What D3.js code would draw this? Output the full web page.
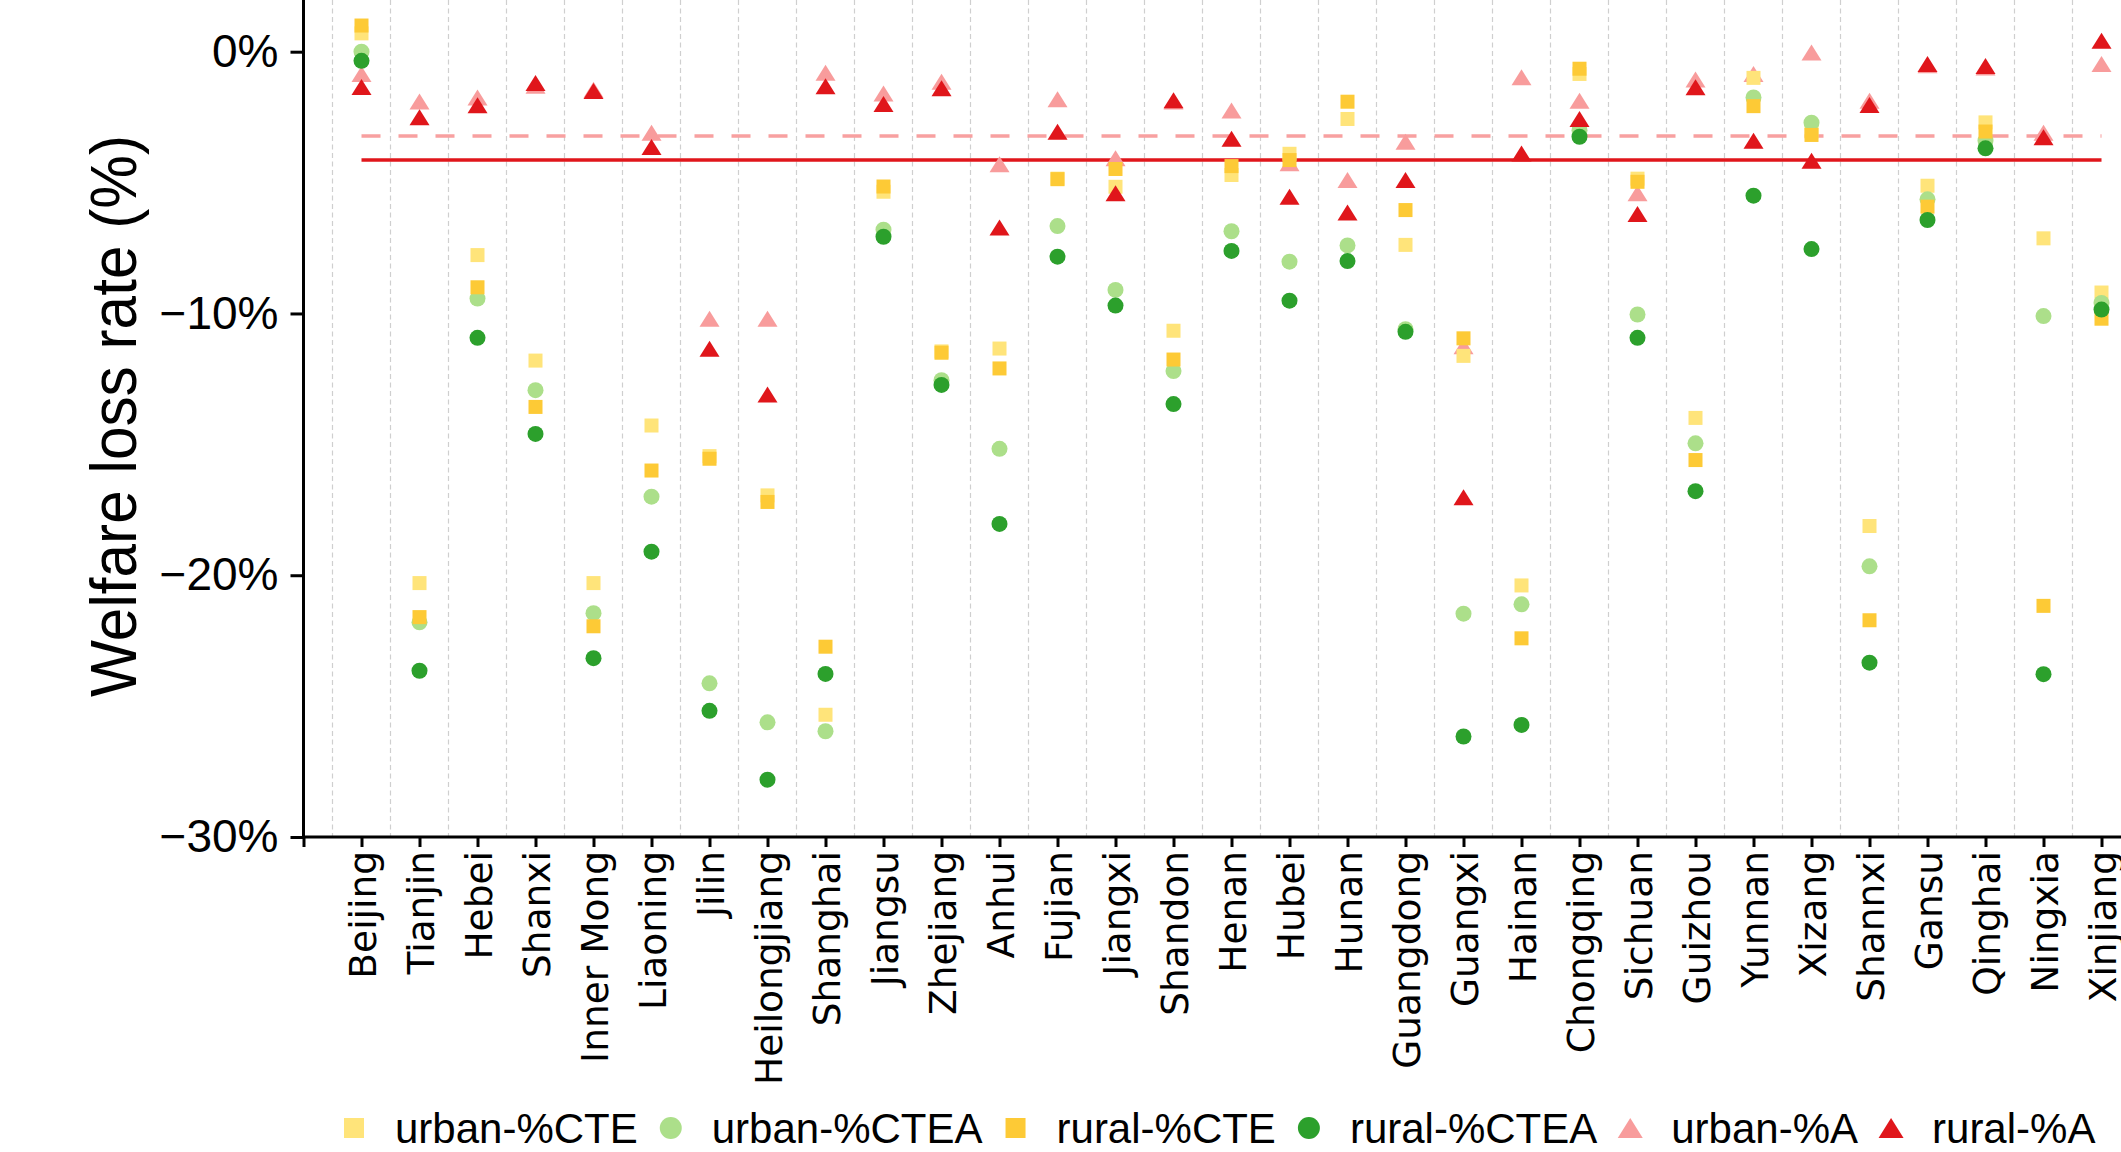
<!DOCTYPE html>
<html>
<head>
<meta charset="utf-8">
<script src="https://cdn.jsdelivr.net/npm/d3@7"></script>
<style>
  body { margin: 0; background: #fff; }
  svg { display: block; font-family: 'Liberation Sans', Arial, sans-serif; }
</style>
</head>
<body>
<svg width="2121" height="1152"></svg>
<script>
const provinces = ['Beijing', 'Tianjin', 'Hebei', 'Shanxi', 'Inner Mong', 'Liaoning', 'Jilin',
  'Heilongjiang', 'Shanghai', 'Jiangsu', 'Zhejiang', 'Anhui', 'Fujian', 'Jiangxi', 'Shandon',
  'Henan', 'Hubei', 'Hunan', 'Guangdong', 'Guangxi', 'Hainan', 'Chongqing', 'Sichuan', 'Guizhou',
  'Yunnan', 'Xizang', 'Shannxi', 'Gansu', 'Qinghai', 'Ningxia', 'Xinjiang'];

const urbanCTE = [0.7, -20.3, -7.77, -11.8, -20.3, -14.28, -15.45, -16.95, -25.33, -5.35, -11.45,
  -11.34, -4.85, -5.16, -10.66, -4.71, -3.9, -2.57, -7.38, -11.62, -20.39, -0.85, -4.85, -13.99,
  -1.0, -3.05, -18.12, -5.12, -2.7, -7.13, -9.2];
const urbanCTEA = [0.0, -21.8, -9.43, -12.93, -21.45, -17.0, -24.13, -25.62, -25.96, -6.8, -12.55,
  -15.17, -6.66, -9.1, -12.2, -6.86, -8.02, -7.4, -10.6, -21.47, -21.11, -3.0, -10.04, -14.96,
  -1.75, -2.71, -19.66, -5.64, -3.4, -10.1, -9.6];
const ruralCTE = [1.0, -21.6, -9.0, -13.57, -21.95, -16.0, -15.55, -17.2, -22.73, -5.15, -11.5,
  -12.1, -4.87, -4.48, -11.76, -4.37, -4.14, -1.91, -6.05, -10.95, -22.41, -0.65, -4.97, -15.6,
  -2.08, -3.18, -21.72, -5.92, -3.05, -21.17, -10.2];
const ruralCTEA = [-0.35, -23.65, -10.93, -14.6, -23.17, -19.1, -25.18, -27.81, -23.77, -7.07,
  -12.73, -18.04, -7.83, -9.7, -13.46, -7.61, -9.51, -8.0, -10.7, -26.16, -25.72, -3.25, -10.93,
  -16.79, -5.5, -7.54, -23.34, -6.43, -3.69, -23.78, -9.85];
const urbanA = [-0.85, -1.9, -1.75, -1.3, -1.45, -3.1, -10.2, -10.2, -0.8, -1.6, -1.15, -4.3,
  -1.82, -4.07, -1.9, -2.25, -4.26, -4.9, -3.44, -11.25, -0.98, -1.87, -5.41, -1.06, -0.85,
  -0.03, -1.87, -0.52, -0.6, -3.1, -0.47];
const ruralA = [-1.35, -2.5, -2.05, -1.2, -1.5, -3.64, -11.35, -13.1, -1.32, -2.0, -1.4, -6.72,
  -3.06, -5.41, -1.85, -3.33, -5.54, -6.14, -4.9, -17.02, -3.89, -2.57, -6.2, -1.36, -3.4,
  -4.17, -2.04, -0.47, -0.55, -3.27, 0.42];

// reference levels (dashed = urban, solid = rural)
const urbanRef = -3.22;
const ruralRef = -4.14;

const yTicks = [0, -10, -20, -30];

const svg = d3.select('svg');
const width = +svg.attr('width');
const height = +svg.attr('height');

const x = d3.scaleLinear().domain([-1, 31]).range([303.5, 303.5 + 32 * 58]);
const y = d3.scaleLinear().domain([-30, 0]).range([837, 51.7]);

const triangle = (w, h) => `M0,${-h / 2}L${w / 2},${h / 2}L${-w / 2},${h / 2}Z`;

const series = [
  { name: 'urban-%CTE', values: urbanCTE, shape: 'square', color: '#ffe47a' },
  { name: 'urban-%CTEA', values: urbanCTEA, shape: 'circle', color: '#acdf8a' },
  { name: 'rural-%CTE', values: ruralCTE, shape: 'square', color: '#fdca36' },
  { name: 'rural-%CTEA', values: ruralCTEA, shape: 'circle', color: '#2ca02c' },
  { name: 'urban-%A', values: urbanA, shape: 'triangle', color: '#f89c9c' },
  { name: 'rural-%A', values: ruralA, shape: 'triangle', color: '#e0161b' }
];
// drawing order: light triangles below, dark triangles on top
const drawOrder = [4, 0, 1, 2, 3, 5];

// vertical dashed grid between provinces
svg.append('g')
  .selectAll('line')
  .data(d3.range(-0.5, 31, 1))
  .join('line')
  .attr('x1', d => x(d))
  .attr('x2', d => x(d))
  .attr('y1', 0)
  .attr('y2', y(-30))
  .attr('stroke', '#cfcfcf')
  .attr('stroke-width', 1.2)
  .attr('stroke-dasharray', '5,3.5');

// reference lines
svg.append('line')
  .attr('x1', x(0)).attr('x2', x(30))
  .attr('y1', y(urbanRef)).attr('y2', y(urbanRef))
  .attr('stroke', '#f8a0a0')
  .attr('stroke-width', 3.5)
  .attr('stroke-dasharray', '19,18');

svg.append('line')
  .attr('x1', x(0)).attr('x2', x(30))
  .attr('y1', y(ruralRef)).attr('y2', y(ruralRef))
  .attr('stroke', '#e0161b')
  .attr('stroke-width', 3.5);

function drawMarker(sel, shape, color, big) {
  if (shape === 'square') {
    const s = big ? 20 : 14;
    sel.append('rect')
      .attr('x', -s / 2).attr('y', -s / 2)
      .attr('width', s).attr('height', s)
      .attr('fill', color);
  } else if (shape === 'circle') {
    sel.append('circle')
      .attr('r', big ? 11 : 8)
      .attr('fill', color);
  } else {
    sel.append('path')
      .attr('d', big ? triangle(25, 20) : triangle(20, 16))
      .attr('fill', color);
  }
}

drawOrder.forEach(k => {
  const s = series[k];
  svg.append('g')
    .selectAll('g')
    .data(s.values)
    .join('g')
    .attr('transform', (d, i) => `translate(${x(i)},${y(d)})`)
    .each(function() { drawMarker(d3.select(this), s.shape, s.color, false); });
});

// y axis
const yAxis = svg.append('g')
  .attr('transform', `translate(${x(-1)},0)`)
  .call(d3.axisLeft(y)
    .tickValues(yTicks)
    .tickSize(13)
    .tickPadding(12)
    .tickFormat(d => d3.format('d')(d) + '%'));
yAxis.select('.domain').remove();
yAxis.selectAll('.tick line').attr('stroke', '#000').attr('stroke-width', 3);
yAxis.selectAll('.tick text')
  .attr('font-size', 46)
  .attr('font-family', "'Liberation Sans', Arial, sans-serif")
  .attr('fill', '#000');

svg.append('line')
  .attr('x1', x(-1)).attr('x2', x(-1))
  .attr('y1', 0).attr('y2', y(-30) + 1.5)
  .attr('stroke', '#000')
  .attr('stroke-width', 3);

// x axis
const xAxis = svg.append('g')
  .attr('transform', `translate(0,${y(-30)})`)
  .call(d3.axisBottom(x)
    .tickValues(d3.range(-1, 32))
    .tickSize(10)
    .tickFormat(d => provinces[d] || ''));
xAxis.select('.domain').remove();
xAxis.selectAll('.tick line').attr('stroke', '#000').attr('stroke-width', 3);
xAxis.selectAll('.tick text')
  .attr('font-size', 37.5)
  .attr('font-family', "'DejaVu Sans', sans-serif")
  .attr('fill', '#000')
  .attr('text-anchor', 'end')
  .attr('transform', 'translate(0,14) rotate(-90)')
  .attr('x', 0)
  .attr('y', 0)
  .attr('dy', '0.36em');

svg.append('line')
  .attr('x1', x(-1) - 1.5).attr('x2', width)
  .attr('y1', y(-30)).attr('y2', y(-30))
  .attr('stroke', '#000')
  .attr('stroke-width', 3);

// y label
svg.append('text')
  .attr('transform', `translate(136,416) rotate(-90)`)
  .attr('text-anchor', 'middle')
  .attr('font-size', 65)
  .attr('textLength', 562)
  .attr('lengthAdjust', 'spacingAndGlyphs')
  .text('Welfare loss rate (%)');

// legend
const legendY = 1128;
let lx = 354;
series.forEach(s => {
  const item = svg.append('g').attr('transform', `translate(${lx},${legendY})`);
  drawMarker(item, s.shape, s.color, true);
  const t = item.append('text')
    .attr('x', 41)
    .attr('dy', '0.36em')
    .attr('font-size', 42)
    .attr('fill', '#000')
    .text(s.name);
  lx += 41 + t.node().getComputedTextLength() + 33;
});
</script>
</body>
</html>
